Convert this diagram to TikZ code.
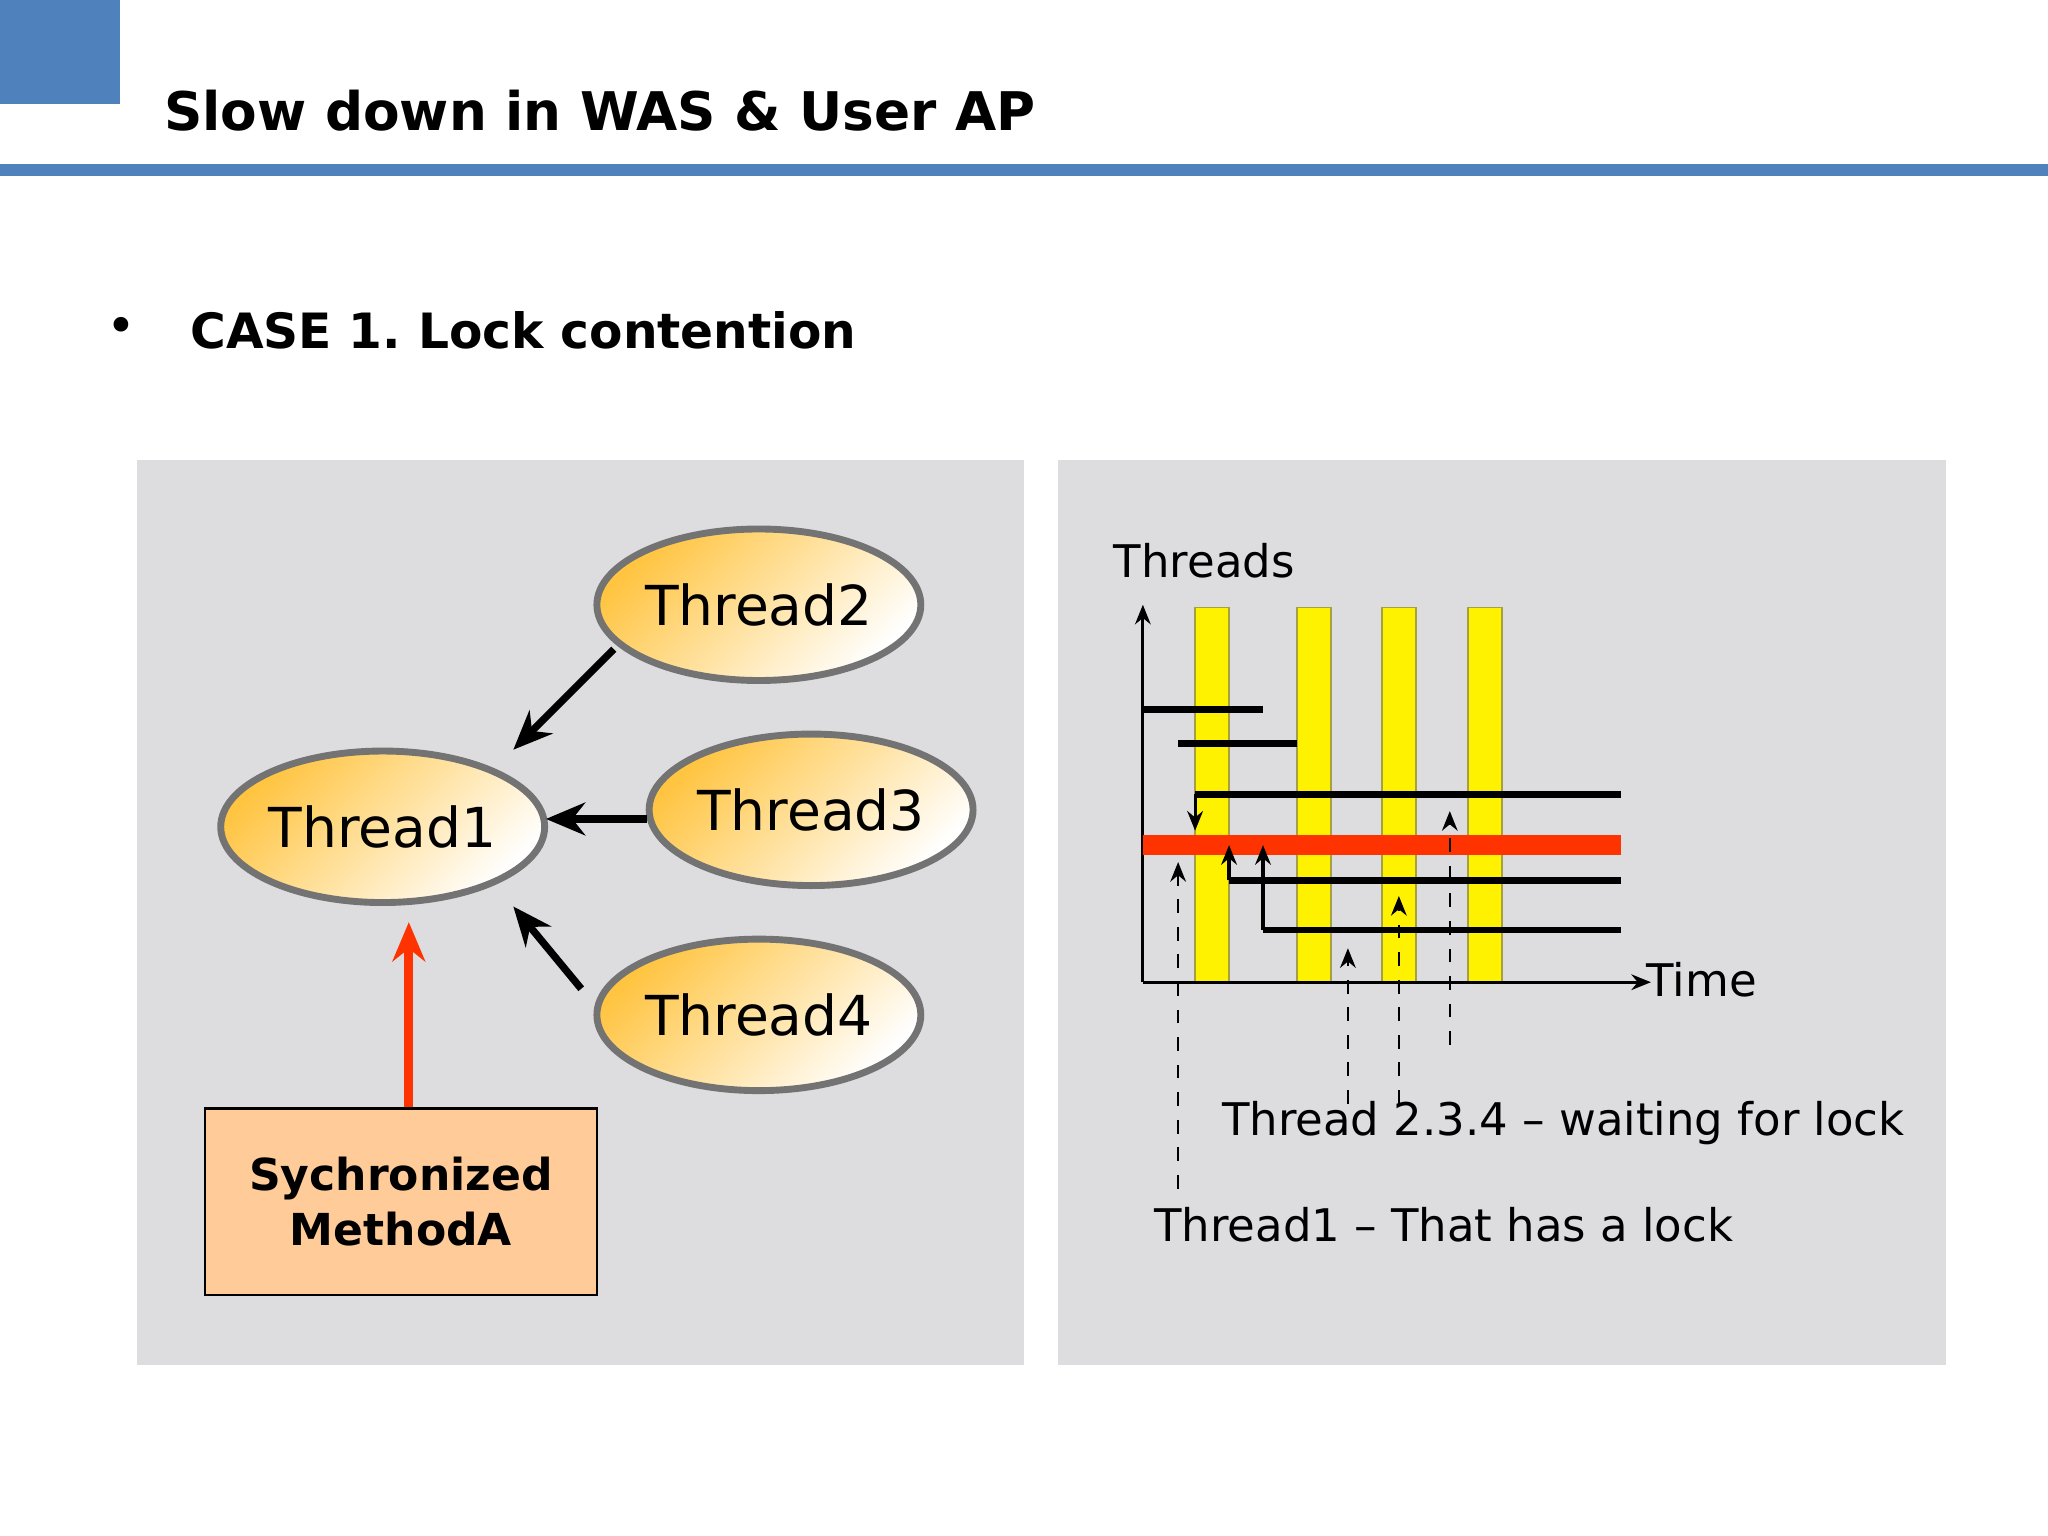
\documentclass[tikz,border=0pt]{standalone}
\usepackage{fontspec}
\setmainfont{DejaVu Sans}
\usetikzlibrary{arrows.meta,shapes.geometric}
\definecolor{hdblue}{HTML}{4F81BD}
\definecolor{panel}{HTML}{DDDCDE}
\definecolor{lockred}{HTML}{FF3300}
\definecolor{boxfill}{HTML}{FFCC99}
\definecolor{thgold}{HTML}{FFC440}
\frenchspacing
\tikzset{
    thread/.style={ellipse, draw=gray!90!black, line width=1.5pt, minimum width=2.48cm, minimum height=1.16cm,
        left color=thgold, right color=white, shading angle=45, font=\fontsize{12pt}{14pt}\selectfont, inner sep=0pt},
    call/.style={-{Stealth[length=3mm,width=2.5mm]}, line width=1.6pt},
    tbar/.style={fill=yellow, draw=yellow!60!black, line width=0.3pt},
    run/.style={line width=1.5pt},
    hint/.style={-{Stealth[length=1.5mm,width=1.2mm]}, dashed, line width=0.5pt},
    wait/.style={-{Stealth[length=1.5mm,width=1.2mm]}, line width=0.7pt},
    lbl/.style={font=\fontsize{9.8pt}{12pt}\selectfont}
}
\begin{document}
\begin{tikzpicture}[x=0.1mm, y=-0.1mm]
    \useasboundingbox (0,0) rectangle (1568,1176);

    % header
    \fill[hdblue] (0,0) rectangle (92,80);
    \node[anchor=base west, inner sep=0pt, font=\fontsize{11.6pt}{14pt}\selectfont\bfseries] (title) at (125,100) {Slow down in WAS \& User AP};
    \draw[hdblue, line width=2.5pt] (0,130) -- (1568,130);

    % bullet
    \node[font=\fontsize{11pt}{13pt}\selectfont] (dot) at (93,253) {•};
    \node[anchor=west, inner sep=0pt, font=\fontsize{10.6pt}{13pt}\selectfont\bfseries] (case) at (145,253) {CASE 1. Lock contention};

    % panels
    \fill[panel] (105,352) rectangle (784,1045);
    \fill[panel] (810,352) rectangle (1490,1045);

    % threads
    \node[thread] (t2) at (581,463) {Thread2};
    \node[thread] (t1) at (293,633) {Thread1};
    \node[thread] (t3) at (621,620) {Thread3};
    \node[thread] (t4) at (581,777) {Thread4};
    \coordinate (t2a) at (470,497);
    \coordinate (t2b) at (393,574);
    \coordinate (t3a) at (495,627);
    \coordinate (t3b) at (418,627);
    \coordinate (t4a) at (445,757);
    \coordinate (t4b) at (393,694);
    \draw[call] (t2a) -- (t2b);
    \draw[call] (t3a) -- (t3b);
    \draw[call] (t4a) -- (t4b);

    % method
    \node[draw, fill=boxfill, line width=0.6pt, minimum width=3cm, minimum height=1.43cm, align=center,
        font=\fontsize{9.6pt}{12pt}\selectfont\bfseries] (meth) at (307,920) {Sychronized\\MethodA};
    \coordinate (m1) at (313,706);
    \draw[lockred, line width=2pt, -{Stealth[length=3mm,width=2.5mm]}] (meth.north -| m1) -- (m1);

    % chart
    \coordinate (o) at (875,752);
    \foreach \x in {915,993,1058,1124}
        \draw[tbar] (\x,465) rectangle (\x+26,752);
    \draw[-{Stealth[length=1.5mm,width=1.2mm]}, line width=0.6pt] (o) -- (875,463);
    \draw[-{Stealth[length=1.5mm,width=1.2mm]}, line width=0.6pt] (o) -- (1264,752);
    \node[anchor=south, lbl] (ylab) at (922,455) {Threads};
    \node[anchor=west, lbl, inner sep=0pt] (xlab) at (1260,750) {Time};

    \draw[run] (875,543) -- (967,543);
    \draw[run] (902,569) -- (993,569);
    \draw[run] (1241,608) -- (915,608);
    \draw[wait] (915,608) -- (915,636);
    \draw[lockred, line width=4.5pt] (875,647) -- (1241,647);
    \draw[run] (1241,674) -- (941,674);
    \draw[wait] (941,674) -- (941,647);
    \draw[run] (1241,712) -- (967,712);
    \draw[wait] (967,712) -- (967,647);

    % hints
    \draw[hint] (902,910) -- (902,660);
    \draw[hint] (1032,845) -- (1032,726);
    \draw[hint] (1071,845) -- (1071,686);
    \draw[hint] (1110,800) -- (1110,621);
    \node[anchor=west, lbl, inner sep=0pt] (wt) at (935,860) {Thread 2.3.4 – waiting for lock};
    \node[anchor=west, lbl, inner sep=0pt] (lk) at (883,938) {Thread1 – That has a lock};
\end{tikzpicture}
\end{document}
